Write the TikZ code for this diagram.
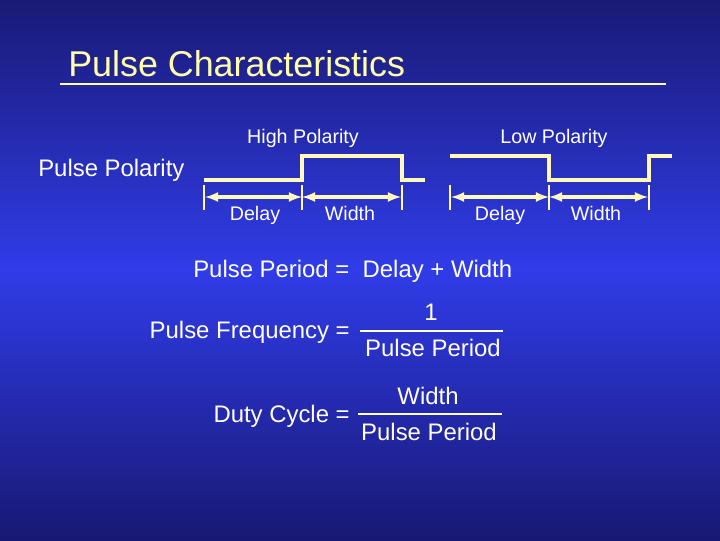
\documentclass[tikz,border=0pt]{standalone}
\usepackage{fontspec}
\setmainfont{Liberation Sans}
\usetikzlibrary{arrows}

\definecolor{wavecol}{RGB}{255,250,185}
\definecolor{titlecol}{RGB}{255,255,165}
\definecolor{bgtop}{RGB}{26,26,118}
\definecolor{bgmid}{RGB}{48,60,232}
\definecolor{bgbot}{RGB}{24,24,115}

\tikzset{
    wave/.style={wavecol, line width=2.4pt},
    tickline/.style={wavecol, line width=2pt},
    dimline/.style={wavecol, line width=2.2pt, latex-latex},
    fracline/.style={white, line width=2pt},
    lbl/.style={white, inner sep=0pt, font=\fontsize{14}{16}\selectfont},
    txt/.style={white, inner sep=0pt, font=\fontsize{17}{20}\selectfont},
}

\begin{document}
\begin{tikzpicture}[x=0.025cm, y=-0.025cm]
        % Background
        \shade[top color=bgtop, bottom color=bgbot, middle color=bgmid] (0,0) rectangle (720,540);
        \useasboundingbox (0,0) rectangle (720,540);

        % Title
        \node[titlecol, inner sep=0pt, anchor=base west, font=\fontsize{25.5}{30}\selectfont] (title) at (68,76) {Pulse Characteristics};
        \draw[titlecol!70!white, line width=1.5pt] (60,84) -- (666,84);

        % Polarity labels
        \node[lbl, anchor=base] (high) at (303,143) {High Polarity};
        \node[lbl, anchor=base] (low) at (554,143) {Low Polarity};
        \node[txt, anchor=base west] (polarity) at (38,176) {Pulse Polarity};

        % High polarity pulse
        \draw[wave] (204,180) -- (302,180) -- (302,156) -- (402,156) -- (402,180) -- (425,180);
        % Low polarity pulse
        \draw[wave] (450,156) -- (549,156) -- (549,180) -- (649,180) -- (649,156) -- (672,156);

        % Dimension ticks
        \foreach \x in {204,302,402,450,549,649}
            \draw[tickline] (\x,185) -- (\x,210);
        \coordinate (h0) at (205,197);
        \coordinate (h1) at (302,197);
        \coordinate (h2) at (401,197);
        \coordinate (l0) at (451,197);
        \coordinate (l1) at (549,197);
        \coordinate (l2) at (648,197);
        \draw[dimline] (h0) -- (h1);
        \draw[dimline] (h1) -- (h2);
        \draw[dimline] (l0) -- (l1);
        \draw[dimline] (l1) -- (l2);

        \node[lbl, anchor=base] (delayh) at (255,220) {Delay};
        \node[lbl, anchor=base] (widthh) at (350,220) {Width};
        \node[lbl, anchor=base] (delayl) at (500,220) {Delay};
        \node[lbl, anchor=base] (widthl) at (596,220) {Width};

        % Equations
        \node[txt, anchor=base west] (period) at (193,277) {Pulse Period =\ \ Delay + Width};

        \node[txt, anchor=base east] (freq) at (350,338) {Pulse Frequency =};
        \node[txt, anchor=base] (one) at (431,320) {1};
        \node[txt, anchor=base] (ppf) at (433,356) {Pulse Period};
        \draw[fracline] (360,331) -- (503,331);

        \node[txt, anchor=base east] (duty) at (350,422) {Duty Cycle =};
        \node[txt, anchor=base] (wid) at (428,404) {Width};
        \node[txt, anchor=base] (ppd) at (429,440) {Pulse Period};
        \draw[fracline] (358,414) -- (502,414);
\end{tikzpicture}
\end{document}
